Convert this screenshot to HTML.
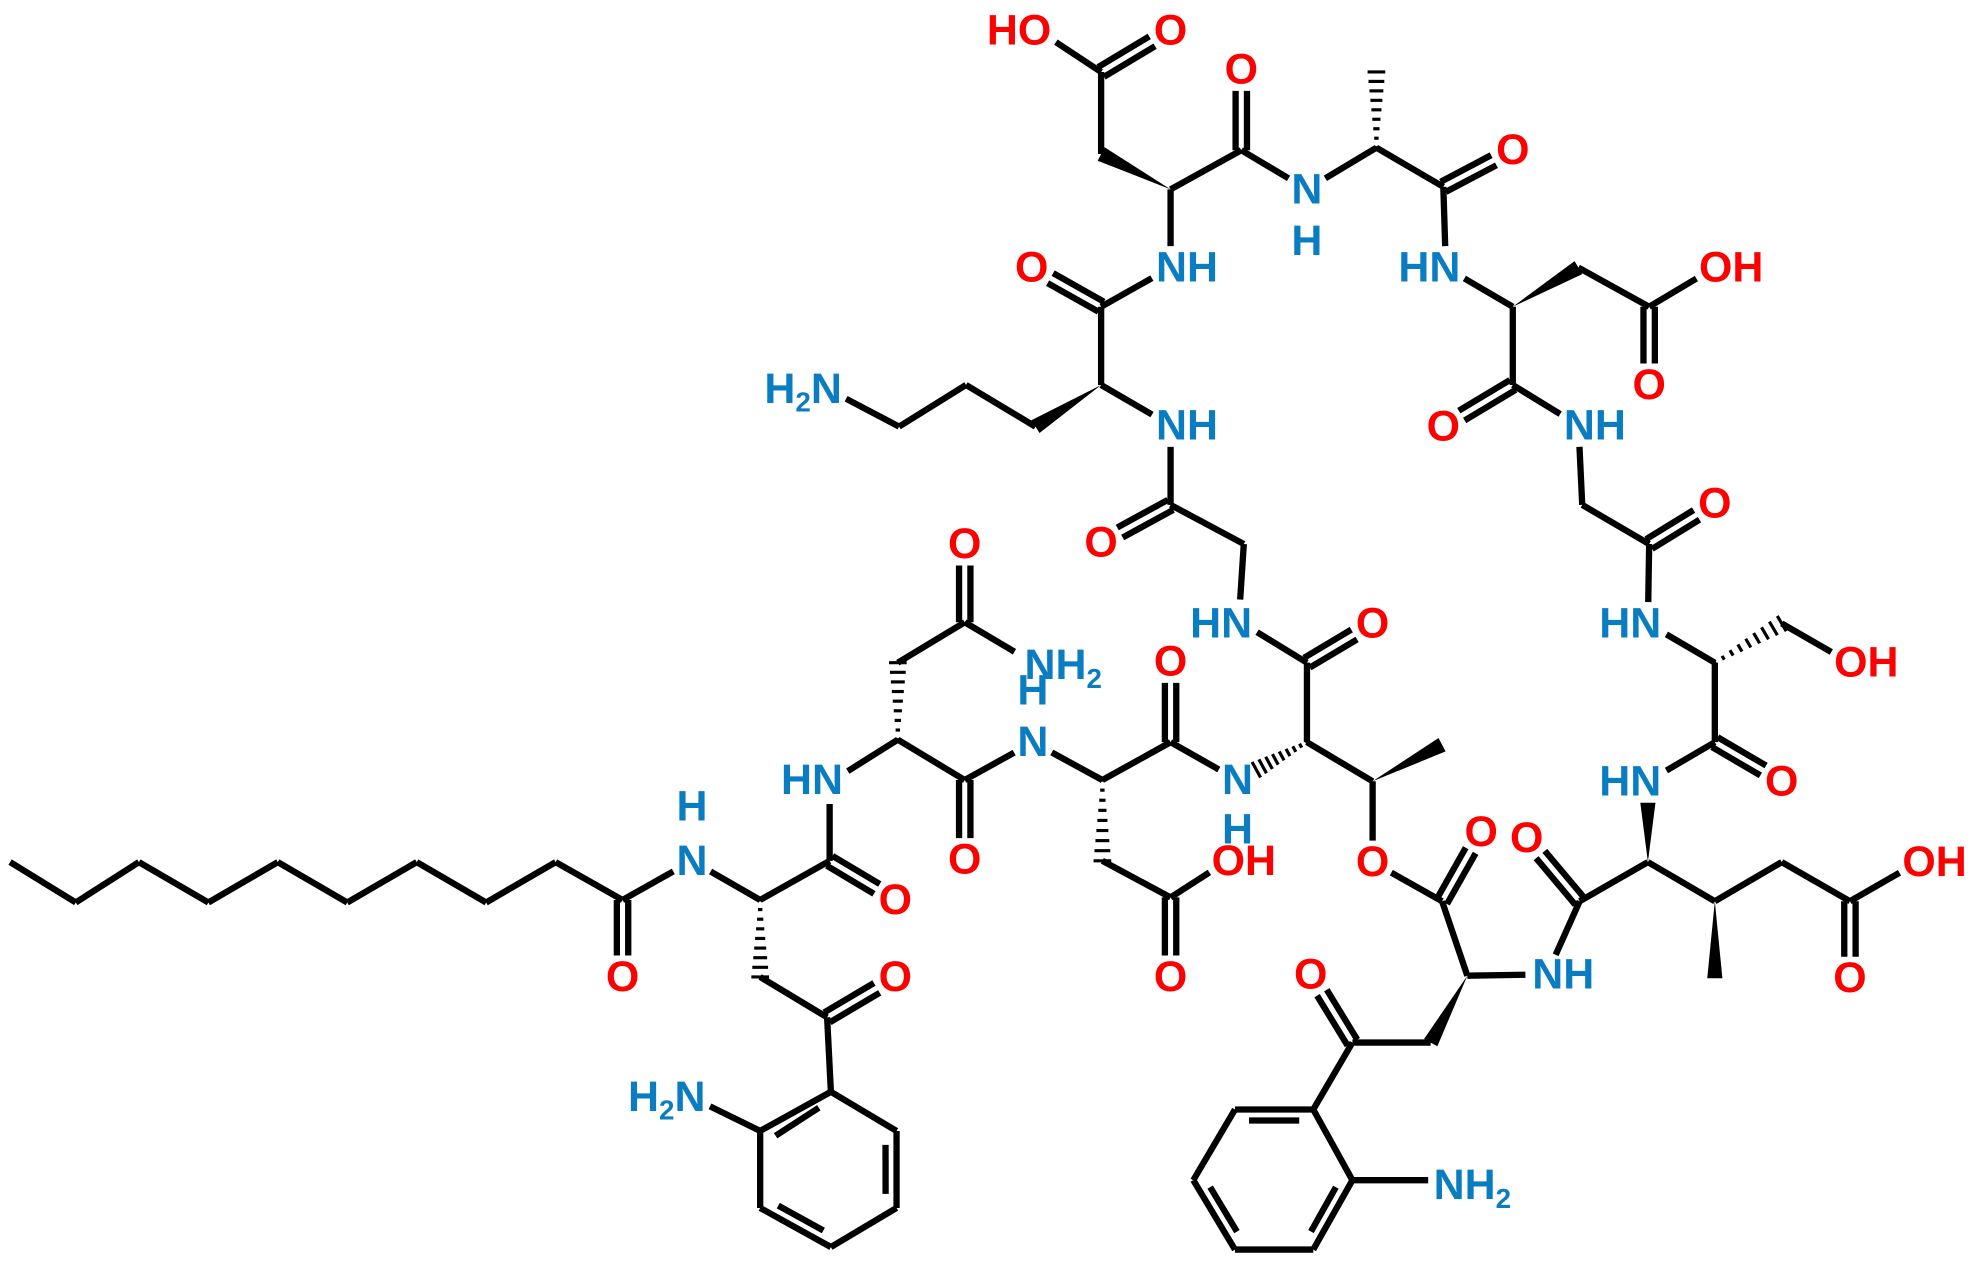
<!DOCTYPE html>
<html><head><meta charset="utf-8"><style>
html,body{margin:0;padding:0;background:#fff;}
svg{display:block;}
text{font-family:"Liberation Sans",sans-serif;font-weight:bold;font-size:34px;dominant-baseline:central;text-anchor:middle;}
.o{fill:#ff0000;} .n{fill:#0a7dc2;}
</style></head><body>
<svg id="s" width="1980" height="1266" viewBox="0 0 1568 1003" preserveAspectRatio="none" xmlns="http://www.w3.org/2000/svg">
<g id="b" stroke="#000" stroke-width="5" stroke-linecap="butt" fill="none"></g>
<g id="w" fill="#000"></g>
<g>
<text class="o" x="493" y="774">O</text>
<text class="o" x="709" y="774">O</text>
<text class="o" x="709" y="713">O</text>
<text class="o" x="764" y="431">O</text>
<text class="o" x="764" y="681">O</text>
<text class="o" x="927" y="524">O</text>
<text class="o" x="927" y="774">O</text>
<text class="o" x="1087" y="494">O</text>
<text class="o" x="872" y="430">O</text>
<text class="o" x="817" y="212">O</text>
<text class="o" x="927" y="24">O</text>
<text class="o" x="983" y="55">O</text>
<text class="o" x="1198" y="119">O</text>
<text class="o" x="1306" y="305">O</text>
<text class="o" x="1143" y="338">O</text>
<text class="o" x="1358" y="399">O</text>
<text class="o" x="1411" y="619">O</text>
<text class="o" x="1209" y="664">O</text>
<text class="o" x="1173" y="659">O</text>
<text class="o" x="1087" y="683">O</text>
<text class="o" x="1465" y="775">O</text>
<text class="o" x="1038" y="772">O</text>
<text class="o" x="985" y="682">OH</text>
<text class="o" x="1371" y="212">OH</text>
<text class="o" x="1478" y="525">OH</text>
<text class="o" x="1532" y="683">OH</text>
<text class="o" x="807" y="24">HO</text>
<text class="n" x="548" y="682">N</text>
<text class="n" x="548" y="639">H</text>
<text class="n" x="643" y="618">HN</text>
<text class="n" x="818" y="547">H</text>
<text class="n" x="842" y="527">NH<tspan font-size="22" dy="10">2</tspan></text>
<text class="n" x="818" y="588">N</text>
<text class="n" x="980" y="618">N</text>
<text class="n" x="980" y="657">H</text>
<text class="n" x="967" y="494">HN</text>
<text class="n" x="940" y="337">NH</text>
<text class="n" x="940" y="212">NH</text>
<text class="n" x="1035" y="150">N</text>
<text class="n" x="1035" y="191">H</text>
<text class="n" x="1132" y="212">HN</text>
<text class="n" x="1263" y="337">NH</text>
<text class="n" x="1291" y="494">HN</text>
<text class="n" x="1291" y="619">HN</text>
<text class="n" x="1238" y="772">NH</text>
<text class="n" x="636" y="308">H<tspan font-size="22" dy="10">2</tspan><tspan dy="-10">N</tspan></text>
<text class="n" x="528" y="869">H<tspan font-size="22" dy="10">2</tspan><tspan dy="-10">N</tspan></text>
<text class="n" x="1166" y="939">NH<tspan font-size="22" dy="10">2</tspan></text>
</g>
</svg>
<script>
var A={
c1:[8,683],c2:[60,715],c3:[110,683],c4:[165,715],c5:[220,683],c6:[275,715],c7:[330,683],c8:[385,715],c9:[440,683],
c10:[493,713],O1:[493,774,1],N1:[548,682,1],Ca1:[602,713],Cb1:[602,774],Kc:[655,806],KO:[709,774,1],
p1:[658,865],p2:[710,896],p3:[710,957],p4:[658,988],p5:[602,957],p6:[602,896],Na1:[547,869,1],
C1:[657,682],O2:[709,713,1],N2:[657,620,1],Ca2:[711,586],Cb2:[711,525],Cg2:[764,493],O3:[764,431,1],N3:[818,525,1],
C2:[764,618],O4:[764,681,1],N4:[818,588,1],Ca3:[873,618],Cb3:[873,682],Cg3:[927,711],OH1:[972,682,1],O5:[927,774,1],
C3:[927,588],O6:[927,524,1],N5:[980,618,1],Ca4:[1035,588],C4:[1035,525],O7:[1087,494,1],N6:[981,492,1],
G1:[985,431],GC:[927,400],O8:[872,430,1],N7:[927,337,1],Ca5:[872,305],C5:[872,243],O9:[817,212,1],N8:[927,212,1],
o1:[820,338],o2:[765,305],o3:[712,338],No:[655,308,1],
Ca6:[927,150],Cb6:[872,122],Cc6:[872,57],HO6:[822,24,1],O10:[927,24,1],C6:[983,119],O11:[983,55,1],N9:[1035,150,1],
Ca7:[1090,117],Me7:[1090,57],C7:[1143,148],O12:[1198,119,1],N10:[1145,212,1],
Ca8:[1198,243],Cb8:[1250,212],Cc8:[1306,243],OH8:[1358,212,1],O13:[1306,305,1],C8:[1198,305],O14:[1143,338,1],
N11:[1250,337,1],G2:[1253,400],C9:[1306,431],O15:[1358,399,1],N12:[1305,494,1],Ca9:[1358,525],Cb9:[1411,494],OH9:[1465,525,1],
C10:[1358,588],O16:[1411,619,1],N13:[1305,619,1],Ca10:[1305,683],CH10:[1358,714],Me10:[1358,775],Cb10:[1411,683],Cc10:[1465,714],OH10:[1519,683,1],O17:[1465,775,1],
C11:[1251,714],O18:[1209,664,1],N14:[1225,772,1],Ca11:[1162,773],Ce:[1142,714],O19:[1173,659,1],Oe:[1087,683,1],
CH4:[1087,619],Me4:[1142,590],Cb11:[1133,826],Kc2:[1071,826],KO2:[1038,772,1],
q1:[1040,879],q2:[978,879],q3:[945,935],q4:[978,990],q5:[1040,990],q6:[1071,935],Nq:[1148,935,1]
};
var B=[
['c1','c2'],['c2','c3'],['c3','c4'],['c4','c5'],['c5','c6'],['c6','c7'],['c7','c8'],['c8','c9'],['c9','c10'],
['c10','O1',2],['c10','N1'],['N1','Ca1'],['Ca1','Cb1','h'],['Cb1','Kc'],['Kc','KO',2],['Kc','p1'],
['p1','p2'],['p2','p3'],['p3','p4'],['p4','p5'],['p5','p6'],['p6','p1'],['p6','Na1'],
['Ca1','C1'],['C1','O2',2],['C1','N2'],['N2','Ca2'],['Ca2','Cb2','h'],['Cb2','Cg2'],['Cg2','O3',2],['Cg2','N3'],
['Ca2','C2'],['C2','O4',2],['C2','N4'],['N4','Ca3'],['Ca3','Cb3','h'],['Cb3','Cg3'],['Cg3','OH1'],['Cg3','O5',2],
['Ca3','C3'],['C3','O6',2],['C3','N5'],['Ca4','N5','h'],['Ca4','C4'],['C4','O7',2],['C4','N6'],['N6','G1'],['G1','GC'],['GC','O8',2],['GC','N7'],
['N7','Ca5'],['Ca5','o1','w'],['o1','o2'],['o2','o3'],['o3','No'],['Ca5','C5'],['C5','O9',2],['C5','N8'],['N8','Ca6'],
['Ca6','Cb6','w'],['Cb6','Cc6'],['Cc6','HO6'],['Cc6','O10',2],['Ca6','C6'],['C6','O11',2],['C6','N9'],['N9','Ca7'],['Ca7','Me7','h'],
['Ca7','C7'],['C7','O12',2],['C7','N10'],['N10','Ca8'],['Ca8','Cb8','w'],['Cb8','Cc8'],['Cc8','OH8'],['Cc8','O13',2],
['Ca8','C8'],['C8','O14',2],['C8','N11'],['N11','G2'],['G2','C9'],['C9','O15',2],['C9','N12'],['N12','Ca9'],['Ca9','Cb9','h'],['Cb9','OH9'],
['Ca9','C10'],['C10','O16',2],['C10','N13'],['Ca10','N13','w'],['Ca10','CH10'],['CH10','Me10','w'],['CH10','Cb10'],['Cb10','Cc10'],['Cc10','OH10'],['Cc10','O17',2],
['Ca10','C11'],['C11','O18',2],['C11','N14'],['N14','Ca11'],['Ca11','Ce'],['Ce','O19',2],['Ce','Oe'],['Oe','CH4'],['CH4','Ca4'],['CH4','Me4','w'],
['Ca11','Cb11','w'],['Cb11','Kc2'],['Kc2','KO2',2],['Kc2','q1'],
['q1','q2'],['q2','q3'],['q3','q4'],['q4','q5'],['q5','q6'],['q6','q1'],['q6','Nq']
];
var inner=[['p1','p6',[630,926]],['p2','p3',[656,926]],['p4','p5',[656,926]],['q1','q2',[1009,935]],['q3','q4',[1009,935]],['q5','q6',[1009,935]]];
var ns='http://www.w3.org/2000/svg',gb=document.getElementById('b'),gw=document.getElementById('w');
function ln(x1,y1,x2,y2){var l=document.createElementNS(ns,'line');l.setAttribute('x1',x1);l.setAttribute('y1',y1);l.setAttribute('x2',x2);l.setAttribute('y2',y2);gb.appendChild(l);}
B.forEach(function(b){var a=A[b[0]],c=A[b[1]],t=b[2]||1;
var dx=c[0]-a[0],dy=c[1]-a[1],L=Math.sqrt(dx*dx+dy*dy),ux=dx/L,uy=dy/L,px=-uy,py=ux;
var s1=a[2]?17:0,s2=c[2]?17:0;
var x1=a[0]+ux*s1,y1=a[1]+uy*s1,x2=c[0]-ux*s2,y2=c[1]-uy*s2;
if(t===1)ln(x1,y1,x2,y2);
else if(t===2){ln(x1+px*4.5,y1+py*4.5,x2+px*4.5,y2+py*4.5);ln(x1-px*4.5,y1-py*4.5,x2-px*4.5,y2-py*4.5);}
else if(t==='w'){var p=document.createElementNS(ns,'polygon');var w=6;
p.setAttribute('points',x1+','+y1+' '+(x2+px*w)+','+(y2+py*w)+' '+(x2-px*w)+','+(y2-py*w));gw.appendChild(p);}
else if(t==='h'){var n=8;for(var i=0;i<=n;i++){var f=i/n,cx=x1+(x2-x1)*f,cy=y1+(y2-y1)*f,w=1+6*f;
var l=document.createElementNS(ns,'line');l.setAttribute('x1',cx+px*w);l.setAttribute('y1',cy+py*w);l.setAttribute('x2',cx-px*w);l.setAttribute('y2',cy-py*w);l.setAttribute('stroke-width','2.5');gb.appendChild(l);}}
});
inner.forEach(function(e){var a=A[e[0]],c=A[e[1]],m=e[2];
function t(p){var dx=m[0]-p[0],dy=m[1]-p[1],L=Math.sqrt(dx*dx+dy*dy);return [p[0]+dx/L*10,p[1]+dy/L*10];}
var a2=t(a),c2=t(c);var dx=c2[0]-a2[0],dy=c2[1]-a2[1];
ln(a2[0]+dx*0.12,a2[1]+dy*0.12,c2[0]-dx*0.12,c2[1]-dy*0.12);});
</script>
</body></html>
